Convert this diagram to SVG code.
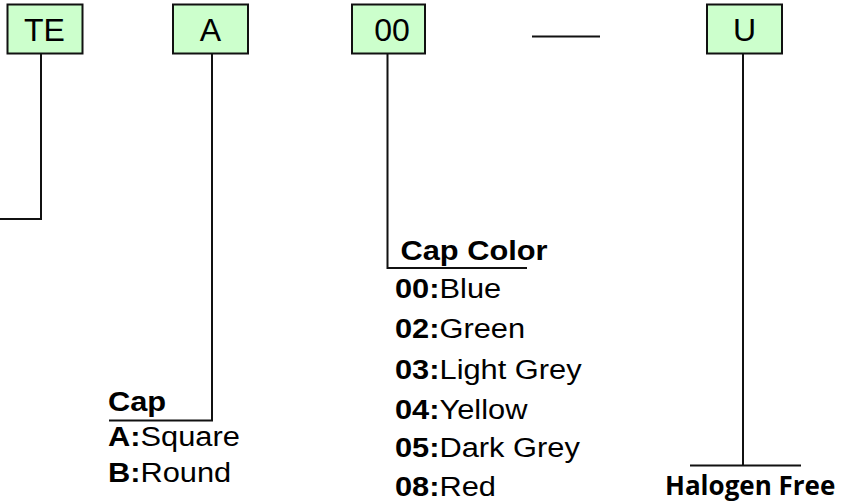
<svg xmlns="http://www.w3.org/2000/svg" width="841" height="503" viewBox="0 0 841 503">
<style>
.box{fill:#CCFFCC;stroke:#111;stroke-width:2}
.bt{font-family:"Liberation Sans",Arial,sans-serif;font-size:32px;fill:#000;text-anchor:middle}
.ln{fill:none;stroke:#111;stroke-width:2}
.lb{font-family:"Liberation Sans",Arial,sans-serif;font-size:28px;fill:#000}
.b{font-weight:bold}
.hf{font-family:"Open Sans",sans-serif;font-weight:bold;font-size:26px;fill:#000}
</style>
<rect width="841" height="503" fill="#fff"/>
<g id="node-TE"><rect class="box" x="7.5" y="4.5" width="75" height="49"/><text class="bt" x="44.5" y="40.5">TE</text></g>
<g id="node-A"><rect class="box" x="173" y="4.5" width="75" height="49"/><text class="bt" x="210.5" y="40.5">A</text></g>
<g id="node-00"><rect class="box" x="352" y="4.5" width="73" height="49"/><text class="bt" x="392" y="40.5">00</text></g>
<g id="node-U"><rect class="box" x="707" y="4.5" width="75" height="49"/><text class="bt" x="744.5" y="40.5">U</text></g>
<g id="connectors">
<polyline class="ln" points="41,53.5 41,219 0,219"/>
<polyline class="ln" points="212,53.5 212,420.5 109,420.5"/>
<polyline class="ln" points="387.5,53.5 387.5,268 527,268"/>
<line class="ln" x1="532" y1="36.5" x2="600" y2="36.5"/>
<line class="ln" x1="743" y1="53.5" x2="743" y2="465.5"/>
<line class="ln" x1="690" y1="465.5" x2="801" y2="465.5"/>
</g>
<g id="label-cap" transform="translate(108 0) scale(1.1 1)">
<text class="lb b" x="0" y="411">Cap</text>
<text class="lb" x="0" y="446"><tspan class="b">A:</tspan>Square</text>
<text class="lb" x="0" y="482"><tspan class="b">B:</tspan>Round</text>
</g>
<g id="label-color" transform="translate(395 0) scale(1.1 1)">
<text class="lb b" x="5" y="260">Cap Color</text>
<text class="lb" x="0" y="298"><tspan class="b">00:</tspan>Blue</text>
<text class="lb" x="0" y="338"><tspan class="b">02:</tspan>Green</text>
<text class="lb" x="0" y="379"><tspan class="b">03:</tspan>Light Grey</text>
<text class="lb" x="0" y="419"><tspan class="b">04:</tspan>Yellow</text>
<text class="lb" x="0" y="457"><tspan class="b">05:</tspan>Dark Grey</text>
<text class="lb" x="0" y="496.5"><tspan class="b">08:</tspan>Red</text>
</g>
<g id="label-halogen"><text class="hf" x="665" y="495">Halogen Free</text></g>
</svg>
